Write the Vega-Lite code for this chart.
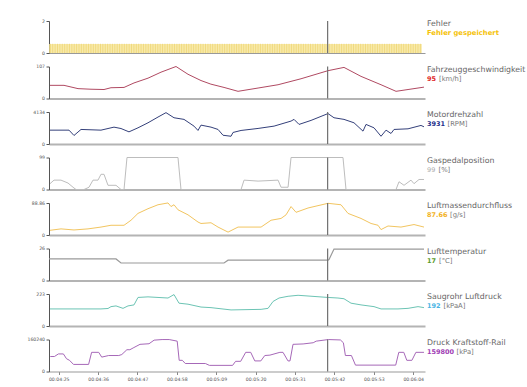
{
  "$schema": "https://vega.github.io/schema/vega-lite/v6.json",
  "background": "white",
  "padding": {"left": 26, "top": 18, "right": 0, "bottom": 0},
  "spacing": 13.5,
  "bounds": "flush",
  "config": {
    "view": {"stroke": null},
    "font": "DejaVu Sans",
    "axis": {"grid": false, "title": null, "labelFontSize": 4.6, "labelColor": "#555", "domainColor": "#555", "tickColor": "#555", "tickSize": 3, "labelPadding": 1.5}
  },
  "datasets": {
    "labels": [
      {"p": "fehler", "name": "Fehler", "val": "Fehler gespeichert", "unit": ""},
      {"p": "speed", "name": "Fahrzeuggeschwindigkeit", "val": "95", "unit": "[km/h]"},
      {"p": "rpm", "name": "Motordrehzahl", "val": "3931", "unit": "[RPM]"},
      {"p": "gas", "name": "Gaspedalposition", "val": "99", "unit": "[%]"},
      {"p": "luft", "name": "Luftmassendurchfluss", "val": "87.66", "unit": "[g/s]"},
      {"p": "temp", "name": "Lufttemperatur", "val": "17", "unit": "[°C]"},
      {"p": "saug", "name": "Saugrohr Luftdruck", "val": "192", "unit": "[kPaA]"},
      {"p": "rail", "name": "Druck Kraftstoff-Rail", "val": "159800", "unit": "[kPa]"}
    ],
    "fehler": [
      {"t": 262.67}, {"t": 263.33}, {"t": 264}, {"t": 264.67}, {"t": 265.33}, {"t": 266}, {"t": 266.67}, {"t": 267.33}, {"t": 268}, {"t": 268.67},
      {"t": 269.33}, {"t": 270}, {"t": 270.67}, {"t": 271.33}, {"t": 272}, {"t": 272.67}, {"t": 273.33}, {"t": 274}, {"t": 274.67}, {"t": 275.33},
      {"t": 276}, {"t": 276.67}, {"t": 277.33}, {"t": 278}, {"t": 278.67}, {"t": 279.33}, {"t": 280}, {"t": 280.67}, {"t": 281.33}, {"t": 282},
      {"t": 282.67}, {"t": 283.33}, {"t": 284}, {"t": 284.67}, {"t": 285.33}, {"t": 286}, {"t": 286.67}, {"t": 287.33}, {"t": 288}, {"t": 288.67},
      {"t": 289.33}, {"t": 290}, {"t": 290.67}, {"t": 291.33}, {"t": 292}, {"t": 292.67}, {"t": 293.33}, {"t": 294}, {"t": 294.67}, {"t": 295.33},
      {"t": 296}, {"t": 296.67}, {"t": 297.33}, {"t": 298}, {"t": 298.67}, {"t": 299.33}, {"t": 300}, {"t": 300.67}, {"t": 301.33}, {"t": 302},
      {"t": 302.67}, {"t": 303.33}, {"t": 304}, {"t": 304.67}, {"t": 305.33}, {"t": 306}, {"t": 306.67}, {"t": 307.33}, {"t": 308}, {"t": 308.67},
      {"t": 309.33}, {"t": 310}, {"t": 310.67}, {"t": 311.33}, {"t": 312}, {"t": 312.67}, {"t": 313.33}, {"t": 314}, {"t": 314.67}, {"t": 315.33},
      {"t": 316}, {"t": 316.67}, {"t": 317.33}, {"t": 318}, {"t": 318.67}, {"t": 319.33}, {"t": 320}, {"t": 320.67}, {"t": 321.33}, {"t": 322},
      {"t": 322.67}, {"t": 323.33}, {"t": 324}, {"t": 324.67}, {"t": 325.33}, {"t": 326}, {"t": 326.67}, {"t": 327.33}, {"t": 328}, {"t": 328.67},
      {"t": 329.33}, {"t": 330}, {"t": 330.67}, {"t": 331.33}, {"t": 332}, {"t": 332.67}, {"t": 333.33}, {"t": 334}, {"t": 334.67}, {"t": 335.33},
      {"t": 336}, {"t": 336.67}, {"t": 337.33}, {"t": 338}, {"t": 338.67}, {"t": 339.33}, {"t": 340}, {"t": 340.67}, {"t": 341.33}, {"t": 342},
      {"t": 342.67}, {"t": 343.33}, {"t": 344}, {"t": 344.67}, {"t": 345.33}, {"t": 346}, {"t": 346.67}, {"t": 347.33}, {"t": 348}, {"t": 348.67},
      {"t": 349.33}, {"t": 350}, {"t": 350.67}, {"t": 351.33}, {"t": 352}, {"t": 352.67}, {"t": 353.33}, {"t": 354}, {"t": 354.67}, {"t": 355.33},
      {"t": 356}, {"t": 356.67}, {"t": 357.33}, {"t": 358}, {"t": 358.67}, {"t": 359.33}, {"t": 360}, {"t": 360.67}, {"t": 361.33}, {"t": 362},
      {"t": 362.67}, {"t": 363.33}, {"t": 364}, {"t": 364.67}, {"t": 365.33}, {"t": 366}
    ],
    "speed": [
      {"t": 262.57, "v": 44}, {"t": 266.48, "v": 44}, {"t": 270.39, "v": 33}, {"t": 274.02, "v": 31}, {"t": 277.65, "v": 30},
      {"t": 279.6, "v": 36}, {"t": 283.24, "v": 37}, {"t": 286.03, "v": 52}, {"t": 289.94, "v": 68}, {"t": 293.57, "v": 88},
      {"t": 297.76, "v": 107}, {"t": 301.11, "v": 81}, {"t": 304.74, "v": 60}, {"t": 307.5, "v": 48}, {"t": 311.17, "v": 37},
      {"t": 315.08, "v": 24}, {"t": 320.67, "v": 35}, {"t": 326.25, "v": 46}, {"t": 332.67, "v": 66}, {"t": 340.2, "v": 93},
      {"t": 344.67, "v": 104}, {"t": 349.42, "v": 74}, {"t": 355.01, "v": 46}, {"t": 359.2, "v": 24}, {"t": 362.55, "v": 30},
      {"t": 367.01, "v": 38}
    ],
    "rpm": [
      {"t": 262.57, "v": 1790}, {"t": 267.88, "v": 1790}, {"t": 269.27, "v": 1100}, {"t": 271.23, "v": 1880}, {"t": 276.81, "v": 1790},
      {"t": 280.44, "v": 2180}, {"t": 282.4, "v": 2000}, {"t": 284.63, "v": 1570}, {"t": 287.14, "v": 2090}, {"t": 289.94, "v": 2740},
      {"t": 292.73, "v": 3480}, {"t": 294.96, "v": 4050}, {"t": 297.2, "v": 3390}, {"t": 299.99, "v": 3180}, {"t": 302.78, "v": 2310},
      {"t": 303.9, "v": 1750}, {"t": 304.74, "v": 2440}, {"t": 307.53, "v": 2180}, {"t": 309.49, "v": 1880}, {"t": 310.89, "v": 1130},
      {"t": 313.12, "v": 1000}, {"t": 313.68, "v": 1490}, {"t": 315.92, "v": 1750}, {"t": 320.67, "v": 2010}, {"t": 325.14, "v": 2310},
      {"t": 329.88, "v": 2960}, {"t": 330.72, "v": 3180}, {"t": 332.12, "v": 2530}, {"t": 335.47, "v": 3050}, {"t": 340.2, "v": 3930},
      {"t": 341.88, "v": 3390}, {"t": 344.67, "v": 3180}, {"t": 347.46, "v": 2740}, {"t": 349.98, "v": 1660}, {"t": 350.82, "v": 2530},
      {"t": 353.05, "v": 2090}, {"t": 355.01, "v": 1000}, {"t": 356.41, "v": 1790}, {"t": 357.8, "v": 1360}, {"t": 358.64, "v": 1880},
      {"t": 362.55, "v": 1960}, {"t": 366.17, "v": 2400}, {"t": 367.01, "v": 2220}
    ],
    "gas": [
      {"t": 262.57, "v": 18}, {"t": 263.69, "v": 29}, {"t": 265.64, "v": 29}, {"t": 267.6, "v": 20}, {"t": 269.0, "v": 7},
      {"t": 269.83, "v": 0}, {"t": 272.07, "v": 0}, {"t": 273.46, "v": 7}, {"t": 274.58, "v": 29}, {"t": 275.97, "v": 29},
      {"t": 276.81, "v": 47}, {"t": 277.65, "v": 47}, {"t": 278.77, "v": 13}, {"t": 281.0, "v": 13}, {"t": 282.4, "v": 0},
      {"t": 283.24, "v": 0}, {"t": 284.07, "v": 99}, {"t": 298.31, "v": 99}, {"t": 299.15, "v": 0}, {"t": 315.92, "v": 0},
      {"t": 316.76, "v": 29}, {"t": 320.67, "v": 26}, {"t": 326.25, "v": 29}, {"t": 327.09, "v": 7}, {"t": 329.05, "v": 7},
      {"t": 329.88, "v": 99}, {"t": 344.39, "v": 99}, {"t": 345.23, "v": 0}, {"t": 359.2, "v": 0}, {"t": 360.03, "v": 24},
      {"t": 361.43, "v": 13}, {"t": 363.38, "v": 29}, {"t": 364.22, "v": 18}, {"t": 365.62, "v": 31}, {"t": 367.01, "v": 31}
    ],
    "luft": [
      {"t": 262.57, "v": 13}, {"t": 265.64, "v": 17}, {"t": 269.27, "v": 14}, {"t": 273.18, "v": 17}, {"t": 276.81, "v": 22},
      {"t": 279.6, "v": 27}, {"t": 283.24, "v": 27}, {"t": 285.19, "v": 41}, {"t": 287.14, "v": 60}, {"t": 289.94, "v": 73},
      {"t": 292.73, "v": 84}, {"t": 295.52, "v": 89}, {"t": 296.36, "v": 79}, {"t": 297.2, "v": 84}, {"t": 298.31, "v": 70},
      {"t": 301.11, "v": 56}, {"t": 303.9, "v": 36}, {"t": 304.74, "v": 32}, {"t": 307.53, "v": 34}, {"t": 309.49, "v": 22},
      {"t": 312.29, "v": 8}, {"t": 315.08, "v": 22}, {"t": 321.51, "v": 22}, {"t": 324.3, "v": 41}, {"t": 327.09, "v": 46},
      {"t": 328.49, "v": 56}, {"t": 329.88, "v": 79}, {"t": 331.28, "v": 63}, {"t": 334.63, "v": 75}, {"t": 340.2, "v": 88},
      {"t": 343.83, "v": 84}, {"t": 345.79, "v": 60}, {"t": 349.42, "v": 46}, {"t": 352.22, "v": 32}, {"t": 354.17, "v": 27},
      {"t": 355.01, "v": 15}, {"t": 356.96, "v": 25}, {"t": 360.59, "v": 22}, {"t": 364.22, "v": 29}, {"t": 367.01, "v": 22}
    ],
    "temp": [
      {"t": 262.29, "v": 17.5}, {"t": 281.0, "v": 17.5}, {"t": 282.4, "v": 14.2}, {"t": 311.17, "v": 14.2}, {"t": 312.29, "v": 16.5},
      {"t": 340.2, "v": 16.5}, {"t": 340.48, "v": 17}, {"t": 341.88, "v": 25.5}, {"t": 367.01, "v": 25.5}
    ],
    "saug": [
      {"t": 262.57, "v": 119}, {"t": 276.81, "v": 119}, {"t": 278.77, "v": 122}, {"t": 279.6, "v": 135}, {"t": 281.0, "v": 140},
      {"t": 282.96, "v": 123}, {"t": 284.35, "v": 140}, {"t": 286.03, "v": 147}, {"t": 287.14, "v": 199}, {"t": 289.94, "v": 203},
      {"t": 292.73, "v": 199}, {"t": 295.52, "v": 195}, {"t": 297.2, "v": 219}, {"t": 298.59, "v": 159}, {"t": 301.11, "v": 152},
      {"t": 304.74, "v": 132}, {"t": 307.53, "v": 128}, {"t": 313.12, "v": 112}, {"t": 321.51, "v": 116}, {"t": 323.46, "v": 123},
      {"t": 324.86, "v": 171}, {"t": 326.53, "v": 195}, {"t": 329.05, "v": 207}, {"t": 331.84, "v": 214}, {"t": 340.2, "v": 199},
      {"t": 342.99, "v": 195}, {"t": 344.67, "v": 190}, {"t": 346.63, "v": 159}, {"t": 349.42, "v": 147}, {"t": 353.05, "v": 135},
      {"t": 355.01, "v": 119}, {"t": 359.75, "v": 119}, {"t": 362.55, "v": 123}, {"t": 365.34, "v": 135}, {"t": 367.01, "v": 128}
    ],
    "rail": [
      {"t": 262.65, "v": 75000}, {"t": 263.8, "v": 75000}, {"t": 264.92, "v": 88000}, {"t": 266.31, "v": 88000}, {"t": 267.18, "v": 64000},
      {"t": 268.02, "v": 56000}, {"t": 269.13, "v": 35500}, {"t": 273.35, "v": 35500}, {"t": 274.19, "v": 96000}, {"t": 276.17, "v": 96000},
      {"t": 277.01, "v": 72000}, {"t": 278.96, "v": 80000}, {"t": 281.78, "v": 80000}, {"t": 282.62, "v": 85000}, {"t": 284.04, "v": 109000},
      {"t": 284.88, "v": 109000}, {"t": 286.0, "v": 120000}, {"t": 287.7, "v": 136000}, {"t": 290.22, "v": 139000}, {"t": 291.64, "v": 157000},
      {"t": 293.87, "v": 160000}, {"t": 295.86, "v": 160000}, {"t": 298.09, "v": 152000}, {"t": 298.65, "v": 56000}, {"t": 299.52, "v": 56000},
      {"t": 300.35, "v": 40000}, {"t": 305.97, "v": 40000}, {"t": 307.08, "v": 30700}, {"t": 313.56, "v": 30700}, {"t": 314.4, "v": 51000},
      {"t": 315.82, "v": 51000}, {"t": 317.22, "v": 96000}, {"t": 318.62, "v": 96000}, {"t": 319.76, "v": 53000}, {"t": 321.44, "v": 53000},
      {"t": 322.55, "v": 80000}, {"t": 323.98, "v": 82000}, {"t": 326.77, "v": 96000}, {"t": 327.64, "v": 96000}, {"t": 329.03, "v": 53000},
      {"t": 329.59, "v": 53000}, {"t": 330.43, "v": 136000}, {"t": 333.25, "v": 138000}, {"t": 336.07, "v": 144000}, {"t": 336.91, "v": 152000},
      {"t": 340.29, "v": 160000}, {"t": 343.66, "v": 158000}, {"t": 344.5, "v": 144000}, {"t": 345.06, "v": 80000}, {"t": 346.74, "v": 80000},
      {"t": 347.88, "v": 32000}, {"t": 359.11, "v": 32000}, {"t": 359.97, "v": 96000}, {"t": 361.37, "v": 96000}, {"t": 362.21, "v": 56000},
      {"t": 363.63, "v": 56000}, {"t": 364.75, "v": 96000}, {"t": 367.01, "v": 96000}
    ]
  },
  "vconcat": [
    {
      "width": 376, "height": 32,
      "layer": [
        {"data": {"name": "fehler"}, "mark": {"type": "rule", "color": "#dcb43c", "strokeWidth": 0.9},
         "encoding": {
           "x": {"field": "t", "type": "quantitative", "scale": {"domain": [262.29, 367.29], "nice": false, "zero": false}, "axis": {"labels": false, "ticks": false, "domainColor": "#999", "domainWidth": 1}},
           "y": {"datum": 0, "type": "quantitative", "scale": {"domain": [0, 2], "nice": false}, "axis": {"values": [0, 2], "labelExpr": "'' + datum.value"}},
           "y2": {"datum": 0.57}}},
        {"data": {"values": [{}]}, "mark": {"type": "rect", "color": "#f6e38e", "opacity": 0.75},
         "encoding": {"x": {"datum": 262.29}, "x2": {"datum": 366.4}, "y": {"datum": 0}, "y2": {"datum": 0.57}}},
        {"data": {"values": [{}]}, "mark": {"type": "rule", "color": "#707070", "strokeWidth": 1.2}, "encoding": {"x": {"datum": 340.1}}},
        {"data": {"name": "labels"}, "transform": [{"filter": "datum.p == 'fehler'"}], "mark": {"type": "text", "align": "left", "baseline": "middle", "dx": 2, "dy": 3, "fontSize": 7.8, "color": "#666"},
         "encoding": {"x": {"datum": 367.29}, "y": {"datum": 2}, "text": {"field": "name"}}},
        {"data": {"name": "labels"}, "transform": [{"filter": "datum.p == 'fehler'"}], "mark": {"type": "text", "align": "left", "baseline": "middle", "dx": 2, "dy": 12, "fontSize": 6.8, "fontWeight": "bold", "color": "#f5c20a"},
         "encoding": {"x": {"datum": 367.29}, "y": {"datum": 2}, "text": {"field": "val"}}}
      ]
    },
    {
      "width": 376, "height": 32,
      "layer": [
        {"data": {"name": "speed"}, "mark": {"type": "line", "color": "#b04a62", "strokeWidth": 1},
         "encoding": {
           "x": {"field": "t", "type": "quantitative", "scale": {"domain": [262.29, 367.29], "nice": false, "zero": false}, "axis": {"labels": false, "ticks": false, "domainColor": "#b4b4b4", "domainWidth": 2}},
           "y": {"field": "v", "type": "quantitative", "scale": {"domain": [0, 107], "nice": false}, "axis": {"values": [0, 107], "labelExpr": "'' + datum.value"}}}},
        {"data": {"values": [{}]}, "mark": {"type": "rule", "color": "#707070", "strokeWidth": 1.2}, "encoding": {"x": {"datum": 340.1}}},
        {"data": {"name": "labels"}, "transform": [{"filter": "datum.p == 'speed'"}], "mark": {"type": "text", "align": "left", "baseline": "middle", "dx": 2, "dy": 3, "fontSize": 7.8, "color": "#666"},
         "encoding": {"x": {"datum": 367.29}, "y": {"datum": 107}, "text": {"field": "name"}}},
        {"data": {"name": "labels"}, "transform": [{"filter": "datum.p == 'speed'"}], "mark": {"type": "text", "align": "left", "baseline": "middle", "dx": 2, "dy": 12, "fontSize": 6.5, "fontWeight": "bold", "color": "#e02828"},
         "encoding": {"x": {"datum": 367.29}, "y": {"datum": 107}, "text": {"field": "val"}}},
        {"data": {"name": "labels"}, "transform": [{"filter": "datum.p == 'speed'"}], "mark": {"type": "text", "align": "left", "baseline": "middle", "dx": 14, "dy": 12, "fontSize": 6.8, "color": "#777"},
         "encoding": {"x": {"datum": 367.29}, "y": {"datum": 107}, "text": {"field": "unit"}}}
      ]
    },
    {
      "width": 376, "height": 32,
      "layer": [
        {"data": {"name": "rpm"}, "mark": {"type": "line", "color": "#34407a", "strokeWidth": 1},
         "encoding": {
           "x": {"field": "t", "type": "quantitative", "scale": {"domain": [262.29, 367.29], "nice": false, "zero": false}, "axis": {"labels": false, "ticks": false, "domainColor": "#b4b4b4", "domainWidth": 2}},
           "y": {"field": "v", "type": "quantitative", "scale": {"domain": [0, 4134], "nice": false}, "axis": {"values": [0, 4134], "labelExpr": "'' + datum.value"}}}},
        {"data": {"values": [{}]}, "mark": {"type": "rule", "color": "#707070", "strokeWidth": 1.2}, "encoding": {"x": {"datum": 340.1}}},
        {"data": {"name": "labels"}, "transform": [{"filter": "datum.p == 'rpm'"}], "mark": {"type": "text", "align": "left", "baseline": "middle", "dx": 2, "dy": 3, "fontSize": 7.8, "color": "#666"},
         "encoding": {"x": {"datum": 367.29}, "y": {"datum": 4134}, "text": {"field": "name"}}},
        {"data": {"name": "labels"}, "transform": [{"filter": "datum.p == 'rpm'"}], "mark": {"type": "text", "align": "left", "baseline": "middle", "dx": 2, "dy": 12, "fontSize": 6.5, "fontWeight": "bold", "color": "#1e2e8a"},
         "encoding": {"x": {"datum": 367.29}, "y": {"datum": 4134}, "text": {"field": "val"}}},
        {"data": {"name": "labels"}, "transform": [{"filter": "datum.p == 'rpm'"}], "mark": {"type": "text", "align": "left", "baseline": "middle", "dx": 22.5, "dy": 12, "fontSize": 6.8, "color": "#777"},
         "encoding": {"x": {"datum": 367.29}, "y": {"datum": 4134}, "text": {"field": "unit"}}}
      ]
    },
    {
      "width": 376, "height": 32,
      "layer": [
        {"data": {"name": "gas"}, "mark": {"type": "line", "color": "#bdbdbd", "strokeWidth": 1},
         "encoding": {
           "x": {"field": "t", "type": "quantitative", "scale": {"domain": [262.29, 367.29], "nice": false, "zero": false}, "axis": {"labels": false, "ticks": false, "domainColor": "#b4b4b4", "domainWidth": 2}},
           "y": {"field": "v", "type": "quantitative", "scale": {"domain": [0, 99], "nice": false}, "axis": {"values": [0, 99], "labelExpr": "'' + datum.value"}}}},
        {"data": {"values": [{}]}, "mark": {"type": "rule", "color": "#707070", "strokeWidth": 1.2}, "encoding": {"x": {"datum": 340.1}}},
        {"data": {"name": "labels"}, "transform": [{"filter": "datum.p == 'gas'"}], "mark": {"type": "text", "align": "left", "baseline": "middle", "dx": 2, "dy": 3, "fontSize": 7.8, "color": "#666"},
         "encoding": {"x": {"datum": 367.29}, "y": {"datum": 99}, "text": {"field": "name"}}},
        {"data": {"name": "labels"}, "transform": [{"filter": "datum.p == 'gas'"}], "mark": {"type": "text", "align": "left", "baseline": "middle", "dx": 2, "dy": 12, "fontSize": 6.5, "color": "#aaa"},
         "encoding": {"x": {"datum": 367.29}, "y": {"datum": 99}, "text": {"field": "val"}}},
        {"data": {"name": "labels"}, "transform": [{"filter": "datum.p == 'gas'"}], "mark": {"type": "text", "align": "left", "baseline": "middle", "dx": 13.5, "dy": 12, "fontSize": 6.8, "color": "#777"},
         "encoding": {"x": {"datum": 367.29}, "y": {"datum": 99}, "text": {"field": "unit"}}}
      ]
    },
    {
      "width": 376, "height": 32,
      "layer": [
        {"data": {"name": "luft"}, "mark": {"type": "line", "color": "#f2c560", "strokeWidth": 1},
         "encoding": {
           "x": {"field": "t", "type": "quantitative", "scale": {"domain": [262.29, 367.29], "nice": false, "zero": false}, "axis": {"labels": false, "ticks": false, "domainColor": "#b4b4b4", "domainWidth": 2}},
           "y": {"field": "v", "type": "quantitative", "scale": {"domain": [0, 88.86], "nice": false}, "axis": {"values": [0, 88.86], "labelExpr": "'' + datum.value"}}}},
        {"data": {"values": [{}]}, "mark": {"type": "rule", "color": "#707070", "strokeWidth": 1.2}, "encoding": {"x": {"datum": 340.1}}},
        {"data": {"name": "labels"}, "transform": [{"filter": "datum.p == 'luft'"}], "mark": {"type": "text", "align": "left", "baseline": "middle", "dx": 2, "dy": 3, "fontSize": 7.8, "color": "#666"},
         "encoding": {"x": {"datum": 367.29}, "y": {"datum": 88.86}, "text": {"field": "name"}}},
        {"data": {"name": "labels"}, "transform": [{"filter": "datum.p == 'luft'"}], "mark": {"type": "text", "align": "left", "baseline": "middle", "dx": 2, "dy": 12, "fontSize": 6.5, "fontWeight": "bold", "color": "#f2b21e"},
         "encoding": {"x": {"datum": 367.29}, "y": {"datum": 88.86}, "text": {"field": "val"}}},
        {"data": {"name": "labels"}, "transform": [{"filter": "datum.p == 'luft'"}], "mark": {"type": "text", "align": "left", "baseline": "middle", "dx": 25, "dy": 12, "fontSize": 6.8, "color": "#777"},
         "encoding": {"x": {"datum": 367.29}, "y": {"datum": 88.86}, "text": {"field": "unit"}}}
      ]
    },
    {
      "width": 376, "height": 32,
      "layer": [
        {"data": {"name": "temp"}, "mark": {"type": "line", "color": "#9a9a9a", "strokeWidth": 1.2},
         "encoding": {
           "x": {"field": "t", "type": "quantitative", "scale": {"domain": [262.29, 367.29], "nice": false, "zero": false}, "axis": {"labels": false, "ticks": false, "domainColor": "#b4b4b4", "domainWidth": 2}},
           "y": {"field": "v", "type": "quantitative", "scale": {"domain": [0, 26], "nice": false}, "axis": {"values": [0, 26], "labelExpr": "'' + datum.value"}}}},
        {"data": {"values": [{}]}, "mark": {"type": "rule", "color": "#707070", "strokeWidth": 1.2}, "encoding": {"x": {"datum": 340.1}}},
        {"data": {"name": "labels"}, "transform": [{"filter": "datum.p == 'temp'"}], "mark": {"type": "text", "align": "left", "baseline": "middle", "dx": 2, "dy": 3, "fontSize": 7.8, "color": "#666"},
         "encoding": {"x": {"datum": 367.29}, "y": {"datum": 26}, "text": {"field": "name"}}},
        {"data": {"name": "labels"}, "transform": [{"filter": "datum.p == 'temp'"}], "mark": {"type": "text", "align": "left", "baseline": "middle", "dx": 2, "dy": 12, "fontSize": 6.5, "fontWeight": "bold", "color": "#5a9a2a"},
         "encoding": {"x": {"datum": 367.29}, "y": {"datum": 26}, "text": {"field": "val"}}},
        {"data": {"name": "labels"}, "transform": [{"filter": "datum.p == 'temp'"}], "mark": {"type": "text", "align": "left", "baseline": "middle", "dx": 14, "dy": 12, "fontSize": 6.8, "color": "#777"},
         "encoding": {"x": {"datum": 367.29}, "y": {"datum": 26}, "text": {"field": "unit"}}}
      ]
    },
    {
      "width": 376, "height": 32,
      "layer": [
        {"data": {"name": "saug"}, "mark": {"type": "line", "color": "#6cc4b4", "strokeWidth": 1},
         "encoding": {
           "x": {"field": "t", "type": "quantitative", "scale": {"domain": [262.29, 367.29], "nice": false, "zero": false}, "axis": {"labels": false, "ticks": false, "domainColor": "#b4b4b4", "domainWidth": 2}},
           "y": {"field": "v", "type": "quantitative", "scale": {"domain": [0, 223], "nice": false}, "axis": {"values": [0, 223], "labelExpr": "'' + datum.value"}}}},
        {"data": {"values": [{}]}, "mark": {"type": "rule", "color": "#707070", "strokeWidth": 1.2}, "encoding": {"x": {"datum": 340.1}}},
        {"data": {"name": "labels"}, "transform": [{"filter": "datum.p == 'saug'"}], "mark": {"type": "text", "align": "left", "baseline": "middle", "dx": 2, "dy": 3, "fontSize": 7.8, "color": "#666"},
         "encoding": {"x": {"datum": 367.29}, "y": {"datum": 223}, "text": {"field": "name"}}},
        {"data": {"name": "labels"}, "transform": [{"filter": "datum.p == 'saug'"}], "mark": {"type": "text", "align": "left", "baseline": "middle", "dx": 2, "dy": 12, "fontSize": 6.5, "fontWeight": "bold", "color": "#4ab4e4"},
         "encoding": {"x": {"datum": 367.29}, "y": {"datum": 223}, "text": {"field": "val"}}},
        {"data": {"name": "labels"}, "transform": [{"filter": "datum.p == 'saug'"}], "mark": {"type": "text", "align": "left", "baseline": "middle", "dx": 18.5, "dy": 12, "fontSize": 6.8, "color": "#777"},
         "encoding": {"x": {"datum": 367.29}, "y": {"datum": 223}, "text": {"field": "unit"}}}
      ]
    },
    {
      "width": 376, "height": 32,
      "layer": [
        {"data": {"name": "rail"}, "mark": {"type": "line", "color": "#a668b8", "strokeWidth": 1},
         "encoding": {
           "x": {"field": "t", "type": "quantitative", "scale": {"domain": [262.29, 367.29], "nice": false, "zero": false},
                 "axis": {"values": [265, 276, 287, 298, 309, 320, 331, 342, 353, 364], "labelExpr": "'00:0' + floor(datum.value / 60) + ':' + (datum.value % 60 < 10 ? '0' : '') + (datum.value % 60)", "domainColor": "#999", "tickColor": "#888", "tickSize": 3, "labelPadding": 2}},
           "y": {"field": "v", "type": "quantitative", "scale": {"domain": [0, 160240], "nice": false}, "axis": {"values": [0, 160240], "labelExpr": "'' + datum.value"}}}},
        {"data": {"values": [{}]}, "mark": {"type": "rule", "color": "#707070", "strokeWidth": 1.2}, "encoding": {"x": {"datum": 340.1}}},
        {"data": {"name": "labels"}, "transform": [{"filter": "datum.p == 'rail'"}], "mark": {"type": "text", "align": "left", "baseline": "middle", "dx": 2, "dy": 3, "fontSize": 7.8, "color": "#666"},
         "encoding": {"x": {"datum": 367.29}, "y": {"datum": 160240}, "text": {"field": "name"}}},
        {"data": {"name": "labels"}, "transform": [{"filter": "datum.p == 'rail'"}], "mark": {"type": "text", "align": "left", "baseline": "middle", "dx": 2, "dy": 12, "fontSize": 6.5, "fontWeight": "bold", "color": "#a040b4"},
         "encoding": {"x": {"datum": 367.29}, "y": {"datum": 160240}, "text": {"field": "val"}}},
        {"data": {"name": "labels"}, "transform": [{"filter": "datum.p == 'rail'"}], "mark": {"type": "text", "align": "left", "baseline": "middle", "dx": 31.5, "dy": 12, "fontSize": 6.8, "color": "#777"},
         "encoding": {"x": {"datum": 367.29}, "y": {"datum": 160240}, "text": {"field": "unit"}}}
      ]
    }
  ]
}
